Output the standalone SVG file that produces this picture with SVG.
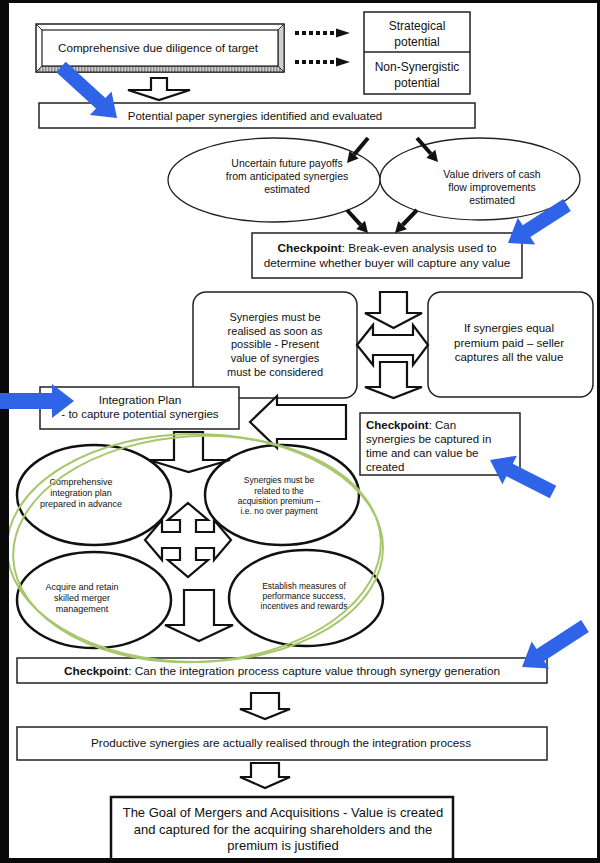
<svg xmlns="http://www.w3.org/2000/svg" width="600" height="863" viewBox="0 0 600 863">
<defs>
<style>
.t{font-family:"Liberation Sans",Arial,sans-serif;fill:#111;text-anchor:middle}
.l{text-anchor:start}
.box{fill:#fff;stroke:#222;stroke-width:1.5}
.hol{fill:#fff;stroke:#111;stroke-width:2.2;stroke-linejoin:miter}
.ell{fill:#fff;stroke:#222;stroke-width:1.3}
.bell{fill:#fff;stroke:#111;stroke-width:2.5}
.blk{stroke:#111;stroke-width:4}
.blue{fill:#2f63e8}
.grn{fill:none;stroke:#a6c76c;stroke-width:2}
</style>
<pattern id="hatch" width="3" height="3" patternUnits="userSpaceOnUse">
<rect width="3" height="3" fill="#d0d0d0"/>
<rect width="1.5" height="3" fill="#8a8a8a"/>
</pattern>
</defs>
<rect x="0" y="0" width="600" height="863" fill="#fff"/>

<g id="due-diligence">
<rect x="36" y="24" width="248" height="48" fill="#fff" stroke="#222" stroke-width="1.5"/>
<polygon points="36,72 284,72 278,66 42,66" fill="url(#hatch)" stroke="#222" stroke-width="1"/>
<polygon points="284,24 284,72 278,66 278,30" fill="#cfcfcf" stroke="#222" stroke-width="1"/>
<rect x="42" y="30" width="236" height="36" fill="#fff" stroke="#222" stroke-width="1.2"/>
<line x1="36" y1="24" x2="42" y2="30" stroke="#222"/>
<text class="t" x="158" y="51.5" font-size="11.7">Comprehensive due diligence of target</text>
</g>

<g id="potential-box">
<rect class="box" x="364" y="12" width="106" height="82"/>
<line x1="364" y1="52" x2="470" y2="52" stroke="#222" stroke-width="1.5"/>
<text class="t" x="417" y="30" font-size="12">Strategical</text>
<text class="t" x="417" y="46" font-size="12">potential</text>
<text class="t" x="417" y="71" font-size="12">Non-Synergistic</text>
<text class="t" x="417" y="87" font-size="12">potential</text>
</g>

<g id="paper-synergies">
<rect class="box" x="39" y="103" width="436" height="25"/>
<text class="t" x="255" y="120" font-size="11.5">Potential paper synergies identified and evaluated</text>
</g>

<g id="uncertain-payoffs">
<ellipse class="ell" cx="274" cy="180" rx="106" ry="42"/>
</g>
<g id="value-drivers">
<ellipse class="ell" cx="480" cy="179" rx="100" ry="41"/>
<text class="t" x="492" y="178" font-size="10.5">Value drivers of cash</text>
<text class="t" x="492" y="191" font-size="10.5">flow improvements</text>
<text class="t" x="492" y="204" font-size="10.5">estimated</text>
</g>
<g id="uncertain-text">
<text class="t" x="287" y="167" font-size="10.5">Uncertain future payoffs</text>
<text class="t" x="287" y="180" font-size="10.5">from anticipated synergies</text>
<text class="t" x="287" y="193" font-size="10.5">estimated</text>
</g>

<g id="checkpoint-1">
<rect class="box" x="252" y="233" width="270" height="45"/>
<text class="t" x="387" y="252" font-size="11.8"><tspan font-weight="bold">Checkpoint</tspan>: Break-even analysis used to</text>
<text class="t" x="387" y="267" font-size="11.8">determine whether buyer will capture any value</text>
</g>

<g id="realise-soon">
<rect class="box" x="193" y="292" width="164" height="106" rx="13"/>
<text class="t" x="275" y="321" font-size="11">Synergies must be</text>
<text class="t" x="275" y="335" font-size="11">realised as soon as</text>
<text class="t" x="275" y="348" font-size="11">possible - Present</text>
<text class="t" x="275" y="362" font-size="11">value of synergies</text>
<text class="t" x="275" y="376" font-size="11">must be considered</text>
</g>

<g id="seller-captures">
<rect class="box" x="428" y="292" width="165" height="105" rx="13"/>
<text class="t" x="509" y="332" font-size="11.5">If synergies equal</text>
<text class="t" x="509" y="347" font-size="11.5">premium paid – seller</text>
<text class="t" x="509" y="361" font-size="11.5">captures all the value</text>
</g>

<g id="integration-plan">
<rect class="box" x="40" y="387" width="199" height="42"/>
<text class="t" x="140" y="404" font-size="11.8">Integration Plan</text>
<text class="t" x="140" y="418" font-size="11.5">- to capture potential synergies</text>
</g>

<g id="checkpoint-2">
<rect class="box" x="360" y="413" width="160" height="62"/>
<text class="t l" x="366" y="429" font-size="11.5"><tspan font-weight="bold">Checkpoint</tspan>: Can</text>
<text class="t l" x="366" y="443" font-size="11.5">synergies be captured in</text>
<text class="t l" x="366" y="457" font-size="11.5">time and can value be</text>
<text class="t l" x="366" y="471" font-size="11.5">created</text>
</g>

<g id="plan-advance">
<ellipse class="bell" cx="94" cy="495" rx="77" ry="50"/>
<text class="t" x="81" y="485" font-size="9">Comprehensive</text>
<text class="t" x="81" y="496" font-size="9">integration plan</text>
<text class="t" x="81" y="507" font-size="9">prepared in advance</text>
</g>
<g id="related-premium">
<ellipse class="bell" cx="282" cy="495" rx="77" ry="50"/>
<text class="t" x="279" y="483" font-size="8.5">Synergies must be</text>
<text class="t" x="279" y="494" font-size="8.5">related to the</text>
<text class="t" x="279" y="504" font-size="8.5">acquisition premium –</text>
<text class="t" x="279" y="514" font-size="8.5">i.e. no over payment</text>
</g>
<g id="merger-management">
<ellipse class="bell" cx="94" cy="600" rx="77" ry="48"/>
<text class="t" x="82" y="590" font-size="9">Acquire and retain</text>
<text class="t" x="82" y="601" font-size="9">skilled merger</text>
<text class="t" x="82" y="612" font-size="9">management</text>
</g>
<g id="performance-measures">
<ellipse class="bell" cx="306" cy="598" rx="77" ry="48"/>
<text class="t" x="304" y="589" font-size="8.5">Establish measures of</text>
<text class="t" x="304" y="599" font-size="8.5">performance success,</text>
<text class="t" x="304" y="609" font-size="8.5">incentives and rewards</text>
</g>

<g id="checkpoint-3">
<rect class="box" x="17" y="658" width="530" height="25"/>
<text class="t" x="282" y="675" font-size="11.8"><tspan font-weight="bold">Checkpoint</tspan>: Can the integration process capture value through synergy generation</text>
</g>

<g id="productive-synergies">
<rect class="box" x="17" y="727" width="530" height="33"/>
<text class="t" x="281" y="747" font-size="11.7">Productive synergies are actually realised through the integration process</text>
</g>

<g id="goal">
<rect x="111" y="797" width="342" height="66" fill="#fff" stroke="#111" stroke-width="2.5"/>
<text class="t" x="283" y="817" font-size="13">The Goal of Mergers and Acquisitions - Value is created</text>
<text class="t" x="283" y="834" font-size="13">and captured for the acquiring shareholders and the</text>
<text class="t" x="283" y="850" font-size="13">premium is justified</text>
</g>

<g id="connectors">
<line x1="295" y1="33" x2="336" y2="33" stroke="#111" stroke-width="4" stroke-dasharray="4 3"/>
<polygon points="336,28.5 350,33 336,37.5" fill="#111"/>
<line x1="295" y1="62" x2="336" y2="62" stroke="#111" stroke-width="4" stroke-dasharray="4 3"/>
<polygon points="336,57.5 350,62 336,66.5" fill="#111"/>
<polygon class="hol" points="151,78 167,78 167,90 190,90 159,100 128,90 151,90"/>
<line class="blk" x1="368" y1="138" x2="354.1" y2="154.6"/>
<polygon points="347,163 358.7,158.4 349.5,150.7" fill="#111"/>
<line class="blk" x1="417" y1="138" x2="430.8" y2="153.7"/>
<polygon points="438,162 426.3,157.7 435.3,149.8" fill="#111"/>
<line class="blk" x1="347" y1="210" x2="360.6" y2="224.9"/>
<polygon points="368,233 356.2,228.9 365,220.8" fill="#111"/>
<line class="blk" x1="417" y1="210" x2="402.6" y2="225"/>
<polygon points="395,233 406.9,229.2 398.3,220.9" fill="#111"/>
<polygon class="hol" points="380,292 407,292 407,313 422,313 393.5,328 365,313 380,313"/>
<polygon class="hol" points="357,345 373,325 373,335 413,335 413,325 428,345 413,365 413,355 373,355 373,365"/>
<polygon class="hol" points="380,362 407,362 407,387 422,387 393.5,398 365,387 380,387"/>
<polygon class="hol" points="250,422 277,396 277,405 346,405 346,439 277,439 277,448"/>
<polygon class="hol" points="174,432 203,432 203,460 230,460 188.5,472 149,460 174,460"/>
<polygon class="hol" points="188,503 208,520 196,520 196,532 214,532 214,520 231,540 214,560 214,548 196,548 196,560 208,560 188,577 168,560 180,560 180,548 162,548 162,560 145,540 162,520 162,532 180,532 180,520 168,520"/>
<polygon class="hol" points="184,590 214,590 214,625 233,625 199,641 165,625 184,625"/>
<polygon class="hol" points="251,693 279,693 279,709 290,709 265,719 240,709 251,709"/>
<polygon class="hol" points="251,763 279,763 279,777 290,777 265,788 240,777 251,777"/>
</g>

<g id="highlight">
<ellipse class="grn" cx="195" cy="548" rx="188" ry="114"/>
<ellipse class="grn" cx="197" cy="549" rx="184" ry="113" transform="rotate(-3 197 549)"/>
</g>

<path d="M0,0 H600 V863 H0 Z M9,3 V858 H597 V3 Z" fill="#0a0a0a" fill-rule="evenodd"/>

<g id="annotations">
<polygon class="blue" points="56.3,72.2 96,108.4 89.9,115 117,118 111.5,91.4 105.4,98 65.7,61.8"/>
<polygon class="blue" points="563.2,199.1 522.7,225.2 517.8,217.7 508,243 535.2,244.5 530.3,237 570.8,210.9"/>
<polygon class="blue" points="0,393 52,393 52,384 74,401 52,418 52,409 0,409"/>
<polygon class="blue" points="556.2,485.8 512.8,463.8 516.9,455.7 490,460 502.4,484.3 506.4,476.2 549.8,498.2"/>
<polygon class="blue" points="581.2,620.1 536.6,649.1 531.7,641.6 522,667 549.1,668.4 544.2,660.9 588.8,631.9"/>
</g>
</svg>
